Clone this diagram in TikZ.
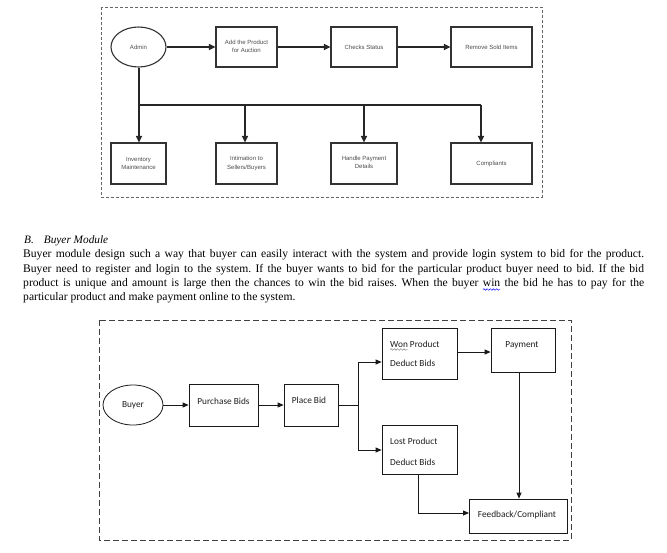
\documentclass[tikz,border=0pt]{standalone}
\usepackage{fontspec}
\setmainfont{Liberation Serif}
\newfontfamily\arialf{Liberation Sans}
\newfontfamily\calf{Carlito}
\usetikzlibrary{arrows.meta,shapes.geometric,decorations.pathmorphing}
\newsavebox\wvbox
\newlength\wvlen
\newcommand\wavyword[3]{\leavevmode\sbox\wvbox{#3}\setlength\wvlen{\wd\wvbox}\rlap{\tikz[overlay]\draw[#1, line width=0.45pt, decorate, decoration={snake, amplitude=0.8pt, segment length=3.2pt}] (0pt,-#2) -- (\wvlen,-#2);}\usebox\wvbox}
\tikzset{
  tbox/.style={draw=black!80, line width=1.1pt, rectangle, inner sep=0pt, minimum height=40pt},
  tell/.style={draw=black!80, line width=1.1pt, ellipse, inner sep=0pt, minimum width=55pt, minimum height=40pt},
  ttxt/.style={font=\arialf\fontsize{6}{8.5}\selectfont, text=black!70, align=center, inner sep=0pt},
  tline/.style={draw=black!85, line width=1.1pt},
  tarr/.style={tline, -{Triangle[length=6.5pt,width=6pt]}},
  bbox/.style={draw=black!90, line width=0.8pt, rectangle, inner sep=0pt},
  bline/.style={draw=black!90, line width=0.8pt},
  barr/.style={bline, -{Triangle[length=6pt,width=5pt]}},
  btxt/.style={font=\calf\fontsize{9.3}{11}\selectfont, text=black!88, inner sep=0pt},
  para/.style={font=\fontsize{11.6}{14}\selectfont\frenchspacing, inner sep=0pt, anchor=base west},
}
\begin{document}
\begin{tikzpicture}[x=1pt,y=-1pt]
\useasboundingbox[fill=white] (0,0) rectangle (667,552);

% ---------- top diagram ----------
\draw[black!60, line width=1pt, dash pattern=on 3pt off 2pt] (101,7) rectangle (542,197);
\node[tell] (admin) at (138.5,47) {};
\node[ttxt] (admint) at (138.5,47) {Admin};
\node[tbox, minimum width=61pt] (add) at (246.5,47) {};
\node[ttxt] (addt) at (246.5,46.5) {Add the Product\\for Auction};
\node[tbox, minimum width=66pt] (chk) at (364,47) {};
\node[ttxt] (chkt) at (364,47) {Checks Status};
\node[tbox, minimum width=81pt] (rem) at (491.5,47) {};
\node[ttxt] (remt) at (491.5,47) {Remove Sold Items};

\node[tbox, minimum width=55pt, minimum height=41pt] (inv) at (138.5,163.5) {};
\node[ttxt] (invt) at (138.5,163.5) {Inventory\\Maintenance};
\node[tbox, minimum width=61pt, minimum height=41pt] (int) at (246.5,163.5) {};
\node[ttxt] (intt) at (246.5,163.5) {Intimation to\\Sellers/Buyers};
\node[tbox, minimum width=66pt, minimum height=41pt] (hpd) at (364,163.5) {};
\node[ttxt] (hpdt) at (364,162.5) {Handle Payment\\Details};
\node[tbox, minimum width=81pt, minimum height=41pt] (cmp) at (491.5,163.5) {};
\node[ttxt] (cmpt) at (491.5,163.5) {Compliants};

\draw[tarr] (admin) -- (add);
\draw[tarr] (add) -- (chk);
\draw[tarr] (chk) -- (rem);

\coordinate (bus1) at (139,105);
\coordinate (bus2) at (245,105);
\coordinate (bus3) at (364,105);
\coordinate (bus4) at (481,105);
\draw[tline] (bus1 |- admin.south) -- (bus1) -- (bus4);
\draw[tarr] (bus1) -- (bus1 |- inv.north);
\draw[tarr] (bus2) -- (bus2 |- int.north);
\draw[tarr] (bus3) -- (bus3 |- hpd.north);
\draw[tarr] (bus4) -- (bus4 |- cmp.north);

% ---------- text ----------
\node[para, font=\fontsize{11.3}{14}\selectfont] (head) at (24,243.5) {\itshape B.\hspace{10pt}Buyer Module};
\node[para] (l1) at (23,257.7) {\makebox[621pt][s]{Buyer module design such a way that buyer can easily interact with the system and provide login system to bid for the product.}};
\node[para] (l2) at (23,272.1) {\makebox[621pt][s]{Buyer need to register and login to the system. If the buyer wants to bid for the particular product buyer need to bid. If the bid}};
\node[para] (l3) at (23,286.5) {\makebox[621pt][s]{product is unique and amount is large then the chances to win the bid raises. When the buyer \wavyword{blue}{3pt}{win} the bid he has to pay for the}};
\node[para] (l4) at (23,300.5) {particular product and make payment online to the system.};

% ---------- bottom diagram ----------
\draw[black!75, line width=0.9pt, dash pattern=on 6pt off 3pt] (99,320) rectangle (571,540);
\node[bbox, ellipse, minimum width=60pt, minimum height=40pt] (buyer) at (133,405) {};
\node[btxt] (buyert) at (133,405) {Buyer};
\node[bbox, minimum width=69pt, minimum height=42pt] (pb) at (223.5,405) {};
\node[btxt] (pbt) at (223.5,401) {Purchase Bids};
\node[bbox, minimum width=54pt, minimum height=42pt] (place) at (311,405) {};
\node[btxt] (placet) at (309,400) {Place Bid};
\node[bbox, minimum width=75pt, minimum height=51pt] (won) at (419.5,353.5) {};
\node[btxt, anchor=base west] (wont1) at (390,347) {\wavyword{gray}{2.5pt}{Won} Product};
\node[btxt, anchor=base west] (wont2) at (390,366) {Deduct Bids};
\node[bbox, minimum width=64pt, minimum height=44pt] (pay) at (523,350) {};
\node[btxt] (payt) at (522,345) {Payment};
\node[bbox, minimum width=75pt, minimum height=49pt] (lost) at (419.5,449.5) {};
\node[btxt, anchor=base west] (lostt1) at (390,444) {Lost Product};
\node[btxt, anchor=base west] (lostt2) at (390,465) {Deduct Bids};
\node[bbox, minimum width=98pt, minimum height=34pt] (fb) at (518,516) {};
\node[btxt] (fbt) at (517,515) {Feedback/Compliant};

\draw[barr] (buyer) -- (pb);
\draw[barr] (pb) -- (place);
\coordinate (split) at (358,405);
\coordinate (wonin) at (358,362);
\coordinate (lostin) at (358,450);
\draw[bline] (place.east |- split) -- (split);
\draw[bline] (wonin) -- (lostin);
\draw[barr] (wonin) -- (wonin -| won.west);
\draw[barr] (lostin) -- (lostin -| lost.west);
\coordinate (wp) at (457,352);
\draw[barr] (wp) -- (wp -| pay.west);
\coordinate (pd) at (519,372);
\draw[barr] (pd) -- (pd |- fb.north);
\coordinate (ld) at (418,474);
\coordinate (fbin) at (469,513);
\draw[barr] (ld) |- (fbin);
\end{tikzpicture}
\end{document}
